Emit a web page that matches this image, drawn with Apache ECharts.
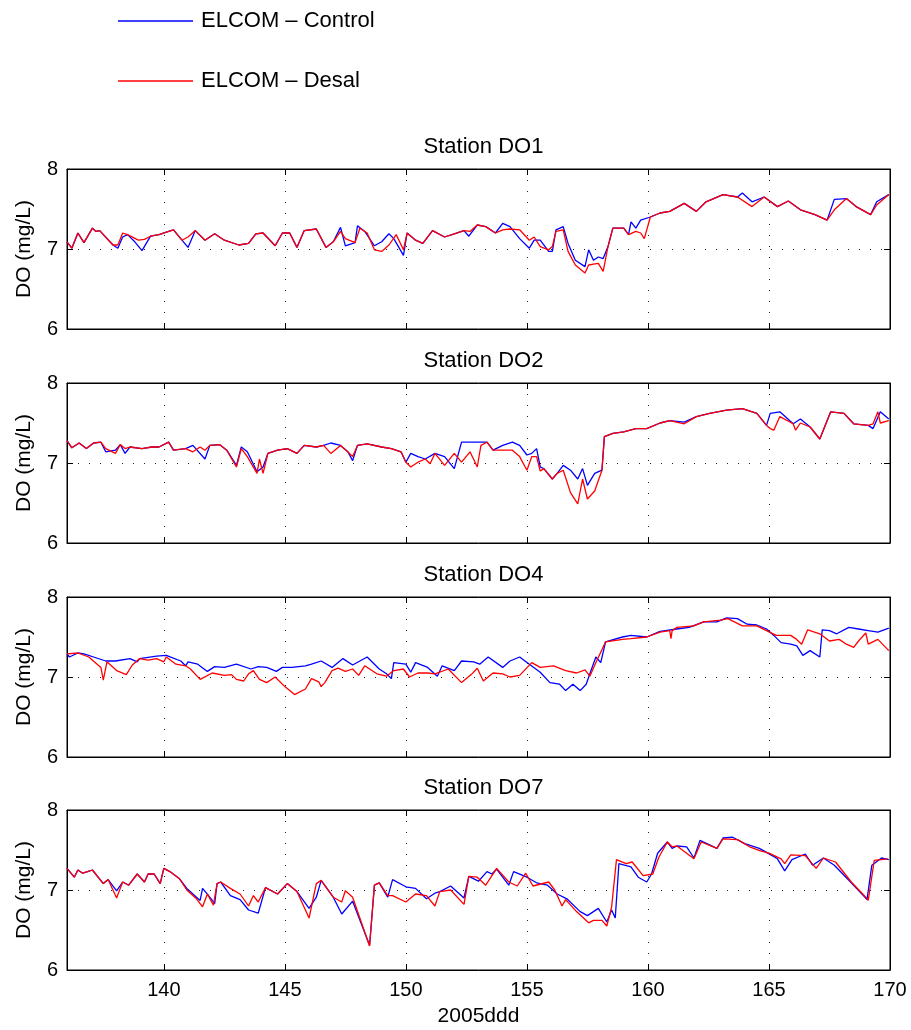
<!DOCTYPE html>
<html>
<head>
<meta charset="utf-8">
<script src="https://cdn.jsdelivr.net/npm/echarts@6/dist/echarts.min.js"></script>
<style>
  html, body { margin: 0; padding: 0; background: #fff; }
  #chart { width: 911px; height: 1030px; }
</style>
</head>
<body>
<div id="chart"></div>
<script>
// x ticks (day of year 2005) and y ticks
const xTicks = [140, 145, 150, 155, 160, 165, 170];
const stations = ['Station DO1', 'Station DO2', 'Station DO4', 'Station DO7'];

// Station DO1
const do1CtlDay = [136.0,136.2,136.45,136.7,137.05,137.2,137.35,137.9,138.1,138.3,138.5,138.8,139.1,139.45,139.8,140.2,140.4,140.75,141.0,141.3,141.7,142.1,142.5,143.1,143.5,143.8,144.1,144.6,144.9,145.2,145.5,145.8,146.3,146.7,147.0,147.3,147.5,147.9,148.0,148.3,148.7,149.0,149.3,149.5,149.9,150.05,150.4,150.7,151.1,151.6,152.0,152.4,152.6,152.95,153.3,153.7,154.0,154.3,154.7,155.1,155.3,155.55,155.9,156.05,156.2,156.5,156.7,157.0,157.4,157.55,157.75,157.95,158.15,158.35,158.55,159.0,159.2,159.3,159.5,159.7,160.1,160.5,160.9,161.5,162.0,162.4,163.1,163.7,163.9,164.3,164.8,165.35,165.8,166.3,166.9,167.4,167.7,168.2,168.6,169.2,169.45,169.95];
const do1CtlVal = [7.09,7.01,7.20,7.08,7.26,7.22,7.23,7.05,7.01,7.15,7.18,7.09,6.98,7.16,7.18,7.22,7.24,7.11,7.02,7.23,7.11,7.19,7.11,7.05,7.07,7.19,7.20,7.04,7.20,7.20,7.02,7.23,7.25,7.02,7.09,7.27,7.04,7.08,7.29,7.22,7.04,7.09,7.19,7.13,6.92,7.20,7.11,7.07,7.23,7.15,7.19,7.23,7.16,7.30,7.28,7.20,7.32,7.28,7.13,7.01,7.11,7.11,6.97,6.97,7.24,7.28,7.07,6.86,6.78,6.99,6.86,6.90,6.88,7.03,7.26,7.26,7.18,7.34,7.26,7.36,7.40,7.45,7.47,7.57,7.47,7.59,7.68,7.65,7.70,7.59,7.65,7.53,7.60,7.49,7.43,7.36,7.62,7.63,7.53,7.43,7.59,7.68];
const do1DesDay = [136.0,136.2,136.45,136.7,137.05,137.2,137.35,137.9,138.1,138.3,138.5,138.95,139.2,139.45,139.8,140.2,140.4,140.75,141.0,141.3,141.7,142.1,142.5,143.1,143.5,143.8,144.1,144.6,144.9,145.2,145.5,145.8,146.3,146.7,147.0,147.3,147.5,147.9,148.1,148.4,148.7,149.0,149.3,149.6,149.9,150.05,150.4,150.7,151.1,151.6,152.0,152.4,152.65,152.95,153.3,153.7,154.0,154.3,154.7,155.1,155.3,155.55,155.9,156.05,156.2,156.5,156.7,157.0,157.4,157.55,157.75,157.95,158.15,158.35,158.55,159.0,159.2,159.5,159.7,159.85,160.1,160.5,160.9,161.5,162.0,162.4,163.1,163.7,164.3,164.8,165.35,165.8,166.3,166.9,167.4,167.7,168.2,168.6,169.2,169.45,169.95];
const do1DesVal = [7.09,7.01,7.20,7.08,7.26,7.22,7.23,7.05,7.05,7.20,7.18,7.11,7.12,7.16,7.18,7.22,7.24,7.11,7.15,7.23,7.11,7.19,7.11,7.05,7.07,7.19,7.20,7.04,7.20,7.20,7.02,7.23,7.25,7.02,7.09,7.22,7.13,7.08,7.26,7.20,6.99,6.97,7.05,7.18,6.99,7.20,7.11,7.07,7.23,7.15,7.19,7.23,7.22,7.30,7.28,7.20,7.24,7.25,7.24,7.11,7.15,7.03,6.99,7.03,7.22,7.24,6.97,6.80,6.70,6.80,6.81,6.82,6.72,7.03,7.26,7.26,7.18,7.22,7.20,7.13,7.40,7.45,7.47,7.57,7.47,7.59,7.68,7.65,7.53,7.65,7.53,7.60,7.49,7.43,7.36,7.49,7.63,7.53,7.43,7.55,7.68];

// Station DO2
const do2CtlDay = [136.0,136.2,136.5,136.8,137.1,137.4,137.6,138.0,138.2,138.4,138.6,139.1,139.5,139.8,140.2,140.4,140.9,141.2,141.7,141.9,142.3,142.6,143.0,143.2,143.45,143.85,144.1,144.3,144.7,145.1,145.5,145.8,146.3,146.6,146.9,147.3,147.6,147.8,148.0,148.4,149.0,149.4,149.8,150.0,150.2,150.5,150.8,151.2,151.6,152.0,152.3,152.65,152.95,153.35,153.6,154.0,154.4,154.7,155.0,155.2,155.4,155.55,155.7,156.05,156.25,156.5,156.8,157.1,157.3,157.5,157.8,158.1,158.2,158.55,159.0,159.5,159.95,160.5,160.9,161.5,162.0,162.55,163.25,163.9,164.5,164.9,165.05,165.45,166.0,166.3,166.7,167.1,167.55,168.1,168.5,169.1,169.3,169.6,169.95];
const do2CtlVal = [7.28,7.19,7.25,7.18,7.25,7.26,7.14,7.16,7.23,7.12,7.20,7.18,7.20,7.20,7.26,7.16,7.18,7.22,7.05,7.22,7.23,7.16,6.97,7.20,7.14,6.89,6.95,7.12,7.16,7.18,7.12,7.22,7.20,7.22,7.25,7.22,7.14,7.03,7.22,7.24,7.20,7.18,7.14,7.01,7.12,7.08,7.05,7.12,7.08,6.93,7.26,7.26,7.26,7.26,7.16,7.22,7.26,7.22,7.10,7.12,7.18,6.95,6.93,6.80,6.87,6.97,6.91,6.80,6.93,6.72,6.87,6.91,7.33,7.37,7.39,7.43,7.43,7.50,7.53,7.51,7.58,7.62,7.66,7.68,7.62,7.47,7.62,7.64,7.49,7.55,7.45,7.30,7.64,7.62,7.49,7.47,7.43,7.64,7.55];
const do2DesDay = [136.0,136.2,136.5,136.8,137.1,137.4,137.6,138.0,138.2,138.4,138.6,139.1,139.5,139.8,140.2,140.4,140.9,141.2,141.5,141.7,141.9,142.3,142.6,143.0,143.2,143.45,143.85,143.95,144.1,144.3,144.7,145.1,145.5,145.8,146.3,146.6,146.9,147.3,147.6,147.8,148.0,148.4,149.0,149.4,149.8,150.0,150.2,150.5,150.8,151.0,151.2,151.6,152.0,152.3,152.65,152.95,153.1,153.35,153.6,154.0,154.4,154.7,155.0,155.2,155.4,155.55,155.7,156.05,156.25,156.5,156.8,157.1,157.3,157.5,157.8,158.1,158.2,158.55,159.0,159.5,159.95,160.5,160.9,161.5,162.0,162.55,163.25,163.9,164.5,164.9,165.05,165.2,165.45,166.0,166.1,166.3,166.7,167.1,167.55,168.1,168.5,169.1,169.3,169.5,169.6,169.95];
const do2DesVal = [7.28,7.19,7.25,7.18,7.25,7.26,7.18,7.12,7.23,7.18,7.20,7.18,7.20,7.20,7.26,7.16,7.18,7.14,7.20,7.16,7.22,7.23,7.16,6.95,7.18,7.08,6.87,7.05,6.87,7.12,7.16,7.18,7.12,7.22,7.20,7.22,7.12,7.22,7.14,7.08,7.22,7.24,7.20,7.18,7.14,7.01,6.95,7.01,7.05,6.99,7.12,6.97,7.12,7.01,7.14,6.95,7.22,7.26,7.16,7.16,7.16,7.08,6.91,7.08,7.08,6.90,6.93,6.80,6.87,6.91,6.63,6.49,6.80,6.55,6.65,6.91,7.33,7.37,7.39,7.43,7.43,7.50,7.53,7.49,7.58,7.62,7.66,7.68,7.62,7.47,7.43,7.41,7.58,7.49,7.41,7.50,7.45,7.30,7.64,7.62,7.49,7.47,7.49,7.64,7.50,7.53];

// Station DO4
const do4CtlDay = [136.0,136.1,136.45,136.7,137.1,137.6,138.0,138.6,138.9,139.0,139.7,140.1,140.7,140.9,141.0,141.4,141.8,142.1,142.5,143.0,143.6,143.9,144.25,144.65,144.9,145.3,145.85,146.1,146.5,146.95,147.4,147.8,148.4,148.9,149.2,149.4,149.5,150.0,150.2,150.4,150.9,151.3,151.5,152.0,152.3,152.8,153.05,153.4,154.0,154.3,154.7,155.1,155.55,155.95,156.35,156.6,156.9,157.2,157.45,157.6,157.85,158.05,158.25,158.95,159.3,159.95,160.5,161.2,161.7,162.3,162.85,163.25,163.7,164.1,164.5,164.9,165.2,165.5,165.9,166.15,166.4,166.7,167.1,167.2,167.5,167.8,168.3,168.7,169.1,169.5,169.95];
const do4CtlVal = [7.29,7.25,7.30,7.29,7.25,7.20,7.20,7.23,7.19,7.23,7.26,7.27,7.20,7.14,7.19,7.16,7.07,7.13,7.12,7.16,7.10,7.13,7.12,7.07,7.12,7.12,7.14,7.16,7.20,7.12,7.23,7.15,7.25,7.10,7.04,6.98,7.18,7.16,7.06,7.18,7.12,7.01,7.14,7.08,7.20,7.19,7.16,7.25,7.12,7.20,7.25,7.16,7.06,6.93,6.91,6.83,6.91,6.83,6.91,7.04,7.25,7.18,7.44,7.50,7.52,7.50,7.57,7.60,7.62,7.69,7.69,7.74,7.73,7.66,7.65,7.60,7.52,7.43,7.41,7.39,7.27,7.33,7.25,7.59,7.58,7.54,7.62,7.60,7.58,7.56,7.61];
const do4DesDay = [136.0,136.45,136.9,137.4,137.5,137.65,138.05,138.45,138.7,139.0,139.35,139.7,140.0,140.1,140.5,140.9,141.1,141.5,142.0,142.5,142.8,143.0,143.3,143.5,143.7,143.95,144.25,144.6,145.0,145.4,145.85,146.1,146.4,146.5,146.65,146.95,147.2,147.5,147.8,148.05,148.3,148.8,149.2,149.5,149.9,150.15,150.5,150.9,151.2,151.75,152.3,152.7,152.95,153.2,153.6,154.0,154.3,154.7,155.2,155.55,156.1,156.6,157.05,157.4,157.6,157.85,158.05,158.25,158.95,159.3,159.95,160.5,160.9,160.95,161.0,161.2,161.9,162.3,163.0,163.3,163.9,164.5,164.9,165.3,165.9,166.1,166.35,166.6,167.1,167.5,167.9,168.2,168.5,168.7,169.0,169.1,169.5,169.95];
const do4DesVal = [7.29,7.30,7.25,7.12,6.96,7.19,7.08,7.03,7.15,7.23,7.21,7.23,7.19,7.25,7.16,7.14,7.10,6.97,7.05,7.02,7.03,6.97,6.95,7.04,7.08,6.97,6.93,7.00,6.88,6.78,6.85,6.98,6.94,6.88,6.93,7.08,7.11,7.07,7.10,7.02,7.14,7.04,7.01,7.08,7.10,7.00,7.05,7.05,7.04,7.10,6.93,7.03,7.11,6.95,7.05,7.04,7.00,7.02,7.18,7.12,7.14,7.08,7.05,7.09,7.01,7.18,7.31,7.44,7.47,7.48,7.50,7.56,7.58,7.48,7.58,7.62,7.64,7.69,7.71,7.73,7.64,7.64,7.58,7.52,7.52,7.48,7.41,7.59,7.54,7.45,7.47,7.41,7.37,7.45,7.55,7.41,7.47,7.33];

// Station DO7
const do7CtlDay = [136.0,136.3,136.45,136.65,136.85,137.05,137.5,137.7,138.05,138.3,138.55,138.9,139.2,139.35,139.6,139.85,140.0,140.25,140.65,140.95,141.35,141.5,141.6,141.85,142.1,142.2,142.35,142.75,143.15,143.5,143.9,144.2,144.7,145.1,145.5,146.0,146.3,146.5,147.0,147.35,147.8,148.5,148.7,148.9,149.25,149.45,150.0,150.4,150.85,151.2,151.4,151.85,152.4,152.6,153.0,153.35,153.55,153.75,154.25,154.45,155.0,155.4,155.85,156.25,156.65,157.2,157.5,157.95,158.3,158.5,158.65,158.8,159.3,159.6,159.95,160.15,160.4,160.8,161.0,161.2,161.6,161.9,162.15,162.85,163.1,163.5,164.0,164.6,164.9,165.35,165.65,165.95,166.5,166.8,167.25,167.7,168.4,168.9,169.05,169.25,169.65,169.95];
const do7CtlVal = [7.27,7.16,7.25,7.21,7.23,7.25,7.08,7.13,6.99,7.10,7.06,7.20,7.10,7.20,7.20,7.08,7.27,7.23,7.14,7.02,6.91,6.87,7.02,6.93,6.83,7.08,7.10,6.93,6.88,6.75,6.71,7.03,6.95,7.08,6.98,6.77,6.91,7.12,6.91,6.70,6.86,6.31,7.06,7.09,6.91,7.13,7.04,7.02,6.89,6.96,6.98,7.05,6.90,7.17,7.11,7.23,7.20,7.26,7.06,7.23,7.16,7.09,7.06,6.95,6.89,6.73,6.68,6.77,6.60,6.75,6.65,7.33,7.29,7.16,7.10,7.20,7.46,7.60,7.52,7.55,7.54,7.40,7.62,7.52,7.65,7.66,7.58,7.52,7.47,7.39,7.24,7.38,7.45,7.31,7.40,7.31,7.09,6.93,6.88,7.31,7.40,7.38];
const do7DesDay = [136.0,136.3,136.45,136.65,136.85,137.05,137.5,137.7,138.05,138.3,138.55,138.9,139.2,139.35,139.6,139.85,140.0,140.25,140.65,140.95,141.35,141.6,141.8,142.05,142.2,142.35,142.75,143.15,143.5,143.7,143.9,144.2,144.7,145.1,145.5,146.0,146.3,146.5,147.0,147.35,147.5,147.8,148.5,148.7,148.9,149.25,149.45,150.0,150.4,150.85,151.2,151.4,151.85,152.4,152.6,152.95,153.3,153.75,154.25,154.6,154.95,155.25,155.9,156.15,156.45,156.6,157.05,157.55,157.75,158.1,158.3,158.5,158.7,159.1,159.35,159.8,160.2,160.45,160.8,161.0,161.2,161.9,162.2,162.85,163.1,163.7,164.2,164.65,165.0,165.5,165.65,165.9,166.5,166.95,167.25,167.75,168.4,169.0,169.1,169.35,169.9];
const do7DesVal = [7.27,7.16,7.25,7.21,7.23,7.25,7.08,7.13,6.90,7.10,7.06,7.20,7.10,7.20,7.20,7.08,7.27,7.23,7.14,7.00,6.89,6.79,6.95,6.81,7.08,7.10,7.02,6.95,6.80,6.93,6.85,7.03,6.95,7.08,6.98,6.65,7.08,7.12,6.91,6.85,6.99,6.91,6.30,7.06,7.09,6.93,6.93,6.85,6.95,6.93,6.80,6.98,7.00,6.82,7.17,7.16,7.06,7.27,7.10,7.05,7.21,7.05,7.10,7.00,6.80,6.88,6.73,6.59,6.62,6.62,6.55,6.79,7.38,7.33,7.35,7.18,7.20,7.41,7.60,7.54,7.55,7.39,7.60,7.52,7.64,7.63,7.54,7.49,7.46,7.39,7.33,7.44,7.43,7.27,7.40,7.35,7.10,6.91,6.87,7.37,7.39];

const ctlDays = [do1CtlDay, do2CtlDay, do4CtlDay, do7CtlDay];
const ctlVals = [do1CtlVal, do2CtlVal, do4CtlVal, do7CtlVal];
const desDays = [do1DesDay, do2DesDay, do4DesDay, do7DesDay];
const desVals = [do1DesVal, do2DesVal, do4DesVal, do7DesVal];

const FONT = 'Liberation Sans, Arial, Helvetica, sans-serif';
const gridTops = [169, 383, 597, 810];
const gridLeft = 67, gridRight = 21, gridHeight = 160;

const grids = [], xAxes = [], yAxes = [], titles = [], series = [];

gridTops.forEach((top, i) => {
    grids.push({
        left: gridLeft, right: gridRight, top: top, height: gridHeight,
        show: true, borderColor: '#000', borderWidth: 1,
        outerBoundsMode: 'none'
    });
    titles.push({
        text: stations[i],
        left: gridLeft + (911 - gridLeft - gridRight) / 2,
        top: top - 38,
        textAlign: 'center',
        textStyle: {fontFamily: FONT, fontSize: 22, fontWeight: 'normal', color: '#000'}
    });
});

// primary axes (bottom / left)
gridTops.forEach((top, i) => {
    const last = i === gridTops.length - 1;
    xAxes.push({
        type: 'value', gridIndex: i, min: 136, max: 170, position: 'bottom',
        name: last ? '2005ddd' : '',
        nameLocation: 'middle', nameGap: 36,
        nameTextStyle: {fontFamily: FONT, fontSize: 21, color: '#000'},
        axisLine: {show: true, onZero: false, lineStyle: {color: '#000', width: 1}},
        axisTick: {show: true, inside: true, length: 6, customValues: xTicks, lineStyle: {color: '#000'}},
        axisLabel: {show: last, customValues: xTicks, margin: 10, fontFamily: FONT, fontSize: 20, color: '#000'},
        splitLine: {show: true, lineStyle: {color: '#222', width: 1, type: [1, 10]}}
    });
    yAxes.push({
        type: 'value', gridIndex: i, min: 6, max: 8, interval: 1, position: 'left',
        name: 'DO (mg/L)', nameLocation: 'middle', nameGap: 32,
        nameTextStyle: {fontFamily: FONT, fontSize: 21, color: '#000'},
        axisLine: {show: true, onZero: false, lineStyle: {color: '#000', width: 1}},
        axisTick: {show: true, inside: true, length: 6, lineStyle: {color: '#000'}},
        axisLabel: {show: true, margin: 9, fontFamily: FONT, fontSize: 20, color: '#000'},
        splitLine: {show: true, lineStyle: {color: '#222', width: 1, type: [1, 10]}}
    });
});
// mirrored axes (top / right), ticks only
gridTops.forEach((top, i) => {
    xAxes.push({
        type: 'value', gridIndex: i, min: 136, max: 170, position: 'top',
        axisLine: {show: true, onZero: false, lineStyle: {color: '#000'}},
        axisTick: {show: true, inside: true, length: 6, customValues: xTicks, lineStyle: {color: '#000'}},
        axisLabel: {show: false},
        splitLine: {show: false}
    });
    yAxes.push({
        type: 'value', gridIndex: i, min: 6, max: 8, interval: 1, position: 'right',
        axisLine: {show: true, onZero: false, lineStyle: {color: '#000'}},
        axisTick: {show: true, inside: true, length: 6, lineStyle: {color: '#000'}},
        axisLabel: {show: false},
        splitLine: {show: false}
    });
});

gridTops.forEach((top, i) => {
    series.push({
        name: 'ELCOM \u2013 Control', type: 'line', xAxisIndex: i, yAxisIndex: i,
        symbol: 'none', data: ctlDays[i].map((d, k) => [d, ctlVals[i][k]]),
        lineStyle: {color: '#0000ff', width: 1.3}, itemStyle: {color: '#0000ff'},
        z: 3
    });
    series.push({
        name: 'ELCOM \u2013 Desal', type: 'line', xAxisIndex: i, yAxisIndex: i,
        symbol: 'none', data: desDays[i].map((d, k) => [d, desVals[i][k]]),
        lineStyle: {color: '#ff0000', width: 1.3}, itemStyle: {color: '#ff0000'},
        z: 4
    });
});

const chart = echarts.init(document.getElementById('chart'), null, {renderer: 'canvas'});
chart.setOption({
    backgroundColor: '#fff',
    animation: false,
    title: titles,
    legend: {
        data: ['ELCOM \u2013 Control', 'ELCOM \u2013 Desal'],
        orient: 'vertical', left: 118, top: 10, padding: 0,
        icon: 'rect', itemWidth: 75, itemHeight: 1.4, itemGap: 38,
        textStyle: {fontFamily: FONT, fontSize: 22, lineHeight: 22, color: '#000', padding: [0, 0, 0, 3]}
    },
    grid: grids,
    xAxis: xAxes,
    yAxis: yAxes,
    series: series
});
</script>
</body>
</html>
